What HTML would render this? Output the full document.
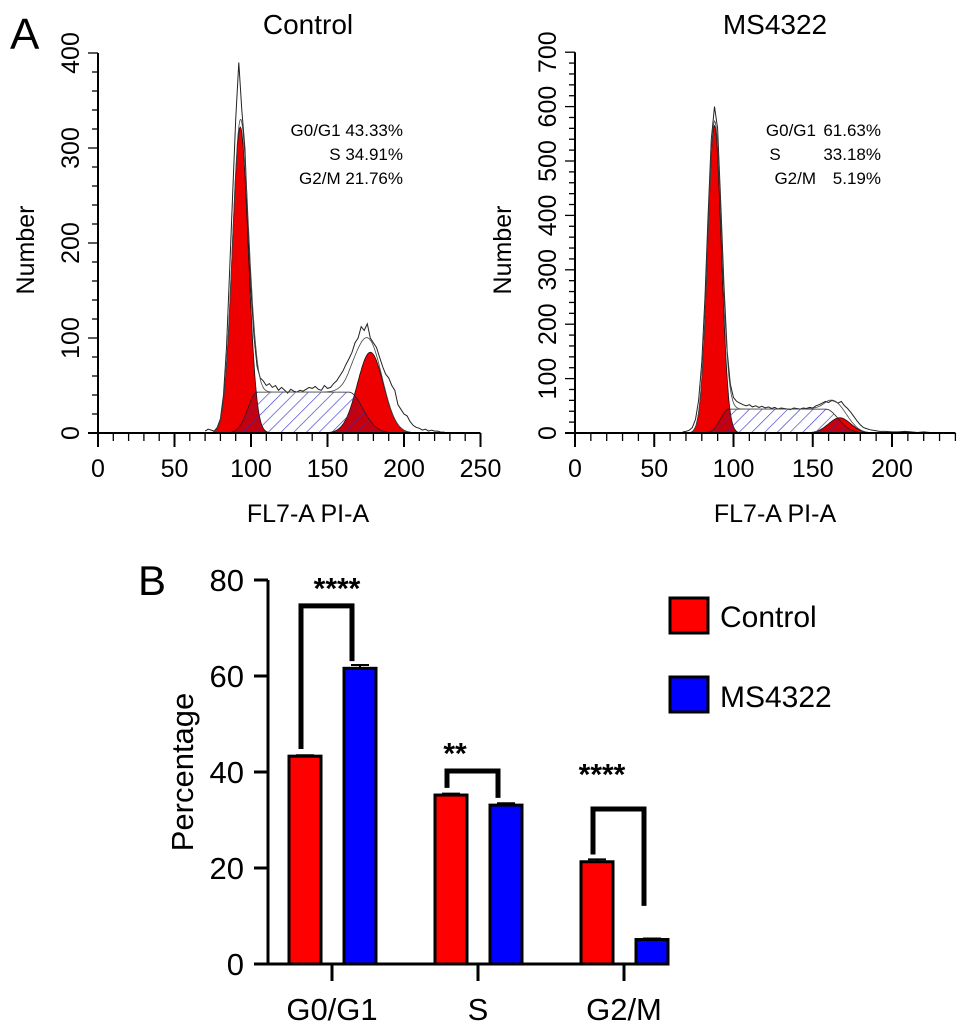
<!DOCTYPE html>
<html><head><meta charset="utf-8"><style>
html,body{margin:0;padding:0;background:#fff;}
svg{display:block;font-family:"Liberation Sans",Arial,sans-serif;}
</style></head><body>
<svg id="fig" width="969" height="1029" viewBox="0 0 969 1029" xmlns="http://www.w3.org/2000/svg">
<defs>
<pattern id="hatch" patternUnits="userSpaceOnUse" width="9" height="9" patternTransform="rotate(45)">
<rect width="9" height="9" fill="rgba(255,255,255,0)"/>
<line x1="0" y1="0" x2="0" y2="9" stroke="#3a3ad0" stroke-width="1.3"/>
</pattern>
</defs>
<text x="10" y="49" font-size="44">A</text>
<text x="138" y="595" font-size="42">B</text>
<g id="h1"></g>
<g id="h2"></g>
<g id="bars"></g>
</svg>
<script>
const NS="http://www.w3.org/2000/svg";
// ---- histogram data ----
const ctrlBins=[70,72,74,76,78,80,82,84,86,88,90,92,94,96,98,100,102,104,106,108,110,112,114,116,118,120,122,124,126,128,130,132,134,136,138,140,142,144,146,148,150,152,154,156,158,160,162,164,166,168,170,172,174,176,178,180,182,184,186,188,190,192,194,196,198,200,202,204,206,208,210,212,214,216,218,220,222,224,226,228];
const ctrlCounts=[2,4,3,2,6,15,40,90,170,250,330,390,340,300,220,150,100,70,58,55,50,52,48,50,45,48,45,42,46,44,43,45,44,46,48,47,49,46,45,50,47,48,52,55,60,65,72,78,85,95,100,112,108,115,100,95,90,80,70,62,58,50,45,30,25,20,18,12,8,6,5,3,4,2,3,2,2,1,1,0];
const ctrlG1=[93,322,5.2];
const ctrlS=[104,164,43,6,9];
const ctrlG2=[178,85,8.5];
const msBins=[68,70,72,74,76,78,80,82,84,86,88,90,92,94,96,98,100,102,104,106,108,110,112,114,116,118,120,122,124,126,128,130,132,134,136,138,140,142,144,146,148,150,152,154,156,158,160,162,164,166,168,170,172,174,176,178,180,182,184,186,188,190,192,196,200,204,208,212,216,220,224,228];
const msCounts=[2,3,5,10,25,60,130,250,400,540,600,560,420,270,150,90,65,58,55,52,50,52,48,50,47,49,46,48,45,47,44,46,45,44,43,46,45,44,46,45,47,46,50,52,55,58,56,60,58,55,58,50,45,38,30,22,15,10,8,6,5,4,3,3,2,2,3,2,1,2,1,0];
const msG1=[88,565,4.3];
const msS=[97,158,44,5,8];
const msG2=[167,28,7];
const ctrlStats=[["G0/G1 43.33%"],["S 34.91%"],["G2/M 21.76%"]];
const msStatsL=["G0/G1","S","G2/M"];
const msStatsV=["61.63%","33.18%","5.19%"];

function el(tag,attrs,parent){const e=document.createElementNS(NS,tag);for(const k in attrs)e.setAttribute(k,attrs[k]);parent.appendChild(e);return e;}
function txt(parent,x,y,s,size,anchor,extra){const t=el("text",Object.assign({x:x,y:y,"font-size":size,"text-anchor":anchor||"start"},extra||{}),parent);t.textContent=s;return t;}
const gauss=(x,p)=>p[1]*Math.exp(-0.5*((x-p[0])/p[2])**2);
function sComp(x,s){if(x<s[0])return s[2]*Math.exp(-0.5*((x-s[0])/s[3])**2);if(x>s[1])return s[2]*Math.exp(-0.5*((x-s[1])/s[4])**2);return s[2];}

function histo(g,cfg){
 const X=v=>cfg.x0+v*cfg.kx, Y=v=>cfg.y0-v*cfg.ky;
 const xs=[];for(let v=60;v<=240;v+=0.5)xs.push(v);
 function area(fn,fill,name,stroke){let d="M"+X(xs[0])+","+Y(0);xs.forEach(v=>{d+=" L"+X(v).toFixed(1)+","+Y(fn(v)).toFixed(1);});d+=" L"+X(xs[xs.length-1])+","+Y(0)+"Z";
  const p=el("path",{d:d,fill:fill,stroke:stroke||"#111","stroke-width":0.8},g);}
 area(v=>gauss(v,cfg.g1),"#ee0000","g1-peak");
 area(v=>gauss(v,cfg.g2),"#ee0000","g2m-peak");
 area(v=>sComp(v,cfg.s),"url(#hatch)","s-phase","#222");
 area(v=>Math.min(sComp(v,cfg.s),gauss(v,cfg.g1)),"rgba(120,0,40,0.35)","g1-s-overlap","none");
 area(v=>Math.min(sComp(v,cfg.s),gauss(v,cfg.g2)),"rgba(120,0,40,0.35)","g2-s-overlap","none");
 let d="M"+X(cfg.bins[0])+","+Y(cfg.counts[0]);
 cfg.bins.forEach((b,i)=>{d+=" L"+X(b).toFixed(1)+","+Y(cfg.counts[i]).toFixed(1);});
 const raw=el("path",{d:d,fill:"none",stroke:"#222","stroke-width":1},g);
 
 let d2="";xs.forEach((v,i)=>{const s=gauss(v,cfg.g1)+gauss(v,cfg.g2)+sComp(v,cfg.s);d2+=(i?" L":"M")+X(v).toFixed(1)+","+Y(s).toFixed(1);});
 const fit=el("path",{d:d2,fill:"none",stroke:"#444","stroke-width":0.8},g);
 
 const ax=el("g",{stroke:"#000","stroke-width":2},g);
 
 el("line",{x1:cfg.x0,y1:Y(cfg.ymax),x2:cfg.x0,y2:cfg.y0+1},ax);
 el("line",{x1:cfg.x0-10,y1:cfg.y0,x2:X(cfg.xmax),y2:cfg.y0},ax);
 for(let v=0;v<=cfg.ymax;v+=cfg.ystep/5){const major=Math.abs(v/cfg.ystep-Math.round(v/cfg.ystep))<1e-6;el("line",{x1:cfg.x0-(major?10:6),y1:Y(v),x2:cfg.x0,y2:Y(v),"stroke-width":1.3},ax);}
 for(let v=0;v<=cfg.xmax+0.01;v+=10){const major=v%50===0;el("line",{x1:X(v),y1:cfg.y0,x2:X(v),y2:cfg.y0+(major?14:8),"stroke-width":major?2:1.3},ax);}
 for(let v=0;v<=cfg.ymax;v+=cfg.ystep){const t=txt(g,0,0,String(v),25,"middle",{transform:"translate("+(cfg.x0-19)+","+Y(v)+") rotate(-90)"});}
 cfg.xt.forEach(v=>{const t=txt(g,X(v),cfg.y0+44,String(v),25,"middle");});
 const yt=txt(g,0,0,"Number",25,"middle",{transform:"translate("+(cfg.x0-64)+",250) rotate(-90)"});
 
 const xtl=txt(g,cfg.titleX,522,"FL7-A PI-A",25,"middle");
 
 const tt=txt(g,cfg.titleX,34,cfg.title,28,"middle");
 
}
histo(document.getElementById("h1"),{x0:98,y0:433,kx:1.53,ky:0.95,ymax:400,ystep:100,xmax:250,xt:[0,50,100,150,200,250],bins:ctrlBins,counts:ctrlCounts,g1:ctrlG1,s:ctrlS,g2:ctrlG2,title:"Control",titleX:308});
histo(document.getElementById("h2"),{x0:575,y0:433,kx:1.585,ky:0.544,ymax:700,ystep:100,xmax:240,xt:[0,50,100,150,200],bins:msBins,counts:msCounts,g1:msG1,s:msS,g2:msG2,title:"MS4322",titleX:775});
(function(){const g1=document.getElementById("h1");ctrlStats.forEach((s,i)=>{const t=txt(g1,403,136+i*24,s[0],17,"end");});
 const g2=document.getElementById("h2");msStatsL.forEach((s,i)=>{const t=txt(g2,i==1?775:816,136+i*24,s,17,i==1?"middle":"end");
 const v=txt(g2,881,136+i*24,msStatsV[i],17,"end");});})();

// ---- bar chart data ----
const categories=["G0/G1","S","G2/M"];
const controlVals=[43.3,35.2,21.3];
const msVals=[61.6,33.1,5.1];
const controlErr=[0.2,0.3,0.5];
const msErr=[0.7,0.4,0.2];
const sigLabels=["****","**","****"];
const yTicks=[0,20,40,60,80];
(function(){
 const g=document.getElementById("bars");
 const X0=268,Y0=964,ky=4.8,Y=v=>Y0-v*ky;
 const cx=i=>332+i*146;
 const ax=el("g",{stroke:"#000","stroke-width":3},g);
 
 el("line",{x1:X0,y1:Y(80),x2:X0,y2:Y0+1.5},ax);
 el("line",{x1:254,y1:Y0,x2:668,y2:Y0},ax);
 yTicks.forEach(v=>{el("line",{x1:254,y1:Y(v),x2:X0,y2:Y(v)},ax);
  const t=txt(g,244,Y(v)+11,String(v),31,"end");});
 categories.forEach((c,i)=>{el("line",{x1:cx(i),y1:Y0,x2:cx(i),y2:Y0+17},ax);
  const t=txt(g,cx(i),Y0+56,c,31,"middle");});
 const yt=txt(g,0,0,"Percentage",31,"middle",{transform:"translate(193,772) rotate(-90)"});
 
 function bar(x,v,e,fill,name){
  const r=el("rect",{x:x-16,y:Y(v),width:32,height:Y0-Y(v),fill:fill,stroke:"#000","stroke-width":3},g);
  
  const eb=el("path",{d:"M"+x+","+Y(v)+" V"+Y(v+e)+" M"+(x-9)+","+Y(v+e)+" H"+(x+9),stroke:"#000","stroke-width":2,fill:"none"},g);
  
 }
 categories.forEach((c,i)=>{
  bar(cx(i)-27,controlVals[i],controlErr[i],"#ff0000","bar-control-"+i);
  bar(cx(i)+28,msVals[i],msErr[i],"#0000ff","bar-ms4322-"+i);
  const l=cx(i)-31,r=cx(i)+20;
  const top=Math.max(controlVals[i],msVals[i])+(i==1?5:(i==2?11:13));
  const lb=Y(controlVals[i]+1.5), rb=Y(msVals[i]+(i==2?7:1.5));
  const br=el("path",{d:"M"+l+","+lb+" V"+Y(top)+" H"+r+" V"+rb,stroke:"#000","stroke-width":5,fill:"none"},g);
  
  const st=txt(g,(i==1?cx(i)-23:(i==2?cx(i)-22:cx(i)+5)),Y(top+(i==2?8:4.5))+14,sigLabels[i],30,"middle",{"font-weight":"bold"});
  
 });
 const lg=el("g",{},g);
 const r1=el("rect",{x:670,y:598,width:38,height:35,fill:"#ff0000",stroke:"#000","stroke-width":3},lg);
 
 const t1=txt(lg,720,627,"Control",30,"start");
 const r2=el("rect",{x:670,y:677,width:38,height:35,fill:"#0000ff",stroke:"#000","stroke-width":3},lg);
 
 const t2=txt(lg,720,707,"MS4322",30,"start");
})();
</script>
</body></html>
